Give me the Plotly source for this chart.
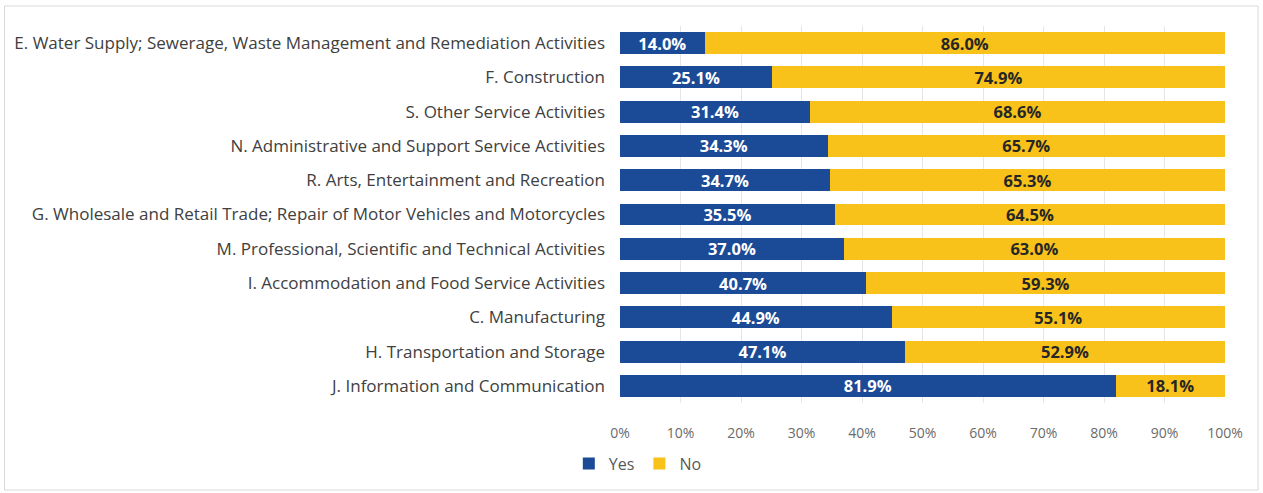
import plotly.graph_objects as go

categories = [
    "E. Water Supply; Sewerage, Waste Management and Remediation Activities",
    "F. Construction",
    "S. Other Service Activities",
    "N. Administrative and Support Service Activities",
    "R. Arts, Entertainment and Recreation",
    "G. Wholesale and Retail Trade; Repair of Motor Vehicles and Motorcycles",
    "M. Professional, Scientific and Technical Activities",
    "I. Accommodation and Food Service Activities",
    "C. Manufacturing",
    "H. Transportation and Storage",
    "J. Information and Communication",
]
yes_pct = [14.0, 25.1, 31.4, 34.3, 34.7, 35.5, 37.0, 40.7, 44.9, 47.1, 81.9]
no_pct = [86.0, 74.9, 68.6, 65.7, 65.3, 64.5, 63.0, 59.3, 55.1, 52.9, 18.1]
tick_vals = [0, 10, 20, 30, 40, 50, 60, 70, 80, 90, 100]
tick_text = [f"{v}%" for v in tick_vals]

BLUE = "#1B4A96"
GOLD = "#F8C21A"
FONT = "Open Sans"

fig = go.Figure()
fig.add_trace(go.Bar(
    name="Yes", y=categories, x=yes_pct, orientation="h",
    marker=dict(color=BLUE, line=dict(width=0)),
    text=[f"{v:.1f}%" for v in yes_pct], textposition="inside",
    insidetextanchor="middle", constraintext="none",
    textfont=dict(family=FONT, size=16.5, color="white", weight="bold"),
))
fig.add_trace(go.Bar(
    name="No", y=categories, x=no_pct, orientation="h",
    marker=dict(color=GOLD, line=dict(width=0)),
    text=[f"{v:.1f}%" for v in no_pct], textposition="inside",
    insidetextanchor="middle", constraintext="none",
    textfont=dict(family=FONT, size=16.5, color="#262626", weight="bold"),
))

fig.update_layout(
    barmode="stack",
    bargap=0.36,
    width=1263, height=493,
    margin=dict(l=620, r=38, t=26, b=90, autoexpand=False),
    paper_bgcolor="white", plot_bgcolor="white",
    font=dict(family=FONT, size=16, color="#404040"),
    xaxis=dict(
        range=[0, 100], tickvals=tick_vals, ticktext=tick_text,
        showgrid=True, gridcolor="#E6E6E6", gridwidth=1,
        zeroline=False, showline=False, ticks="",
        ticklabelstandoff=20, automargin=False,
        tickfont=dict(family=FONT, size=14, color="#6B6B6B"),
        fixedrange=True,
    ),
    yaxis=dict(
        autorange="reversed", showgrid=False, ticks="",
        ticklabelstandoff=14, automargin=False,
        tickfont=dict(family=FONT, size=17, color="#404040"),
    ),
    legend=dict(
        orientation="h", xref="container", x=0.505, xanchor="center",
        yref="container", y=0.025, yanchor="bottom",
        font=dict(family=FONT, size=16, color="#595959"),
        itemwidth=30, traceorder="normal",
    ),
    showlegend=True,
)

# light frame around the whole chart
fig.add_shape(
    type="rect", xref="paper", yref="paper",
    x0=(4.5 - 620) / 605, x1=(1258 - 620) / 605,
    y0=(403 - 490) / 377, y1=(403 - 6) / 377,
    line=dict(color="#D9D9D9", width=1), fillcolor="rgba(0,0,0,0)",
    layer="below",
)

fig.write_html("out.html")
